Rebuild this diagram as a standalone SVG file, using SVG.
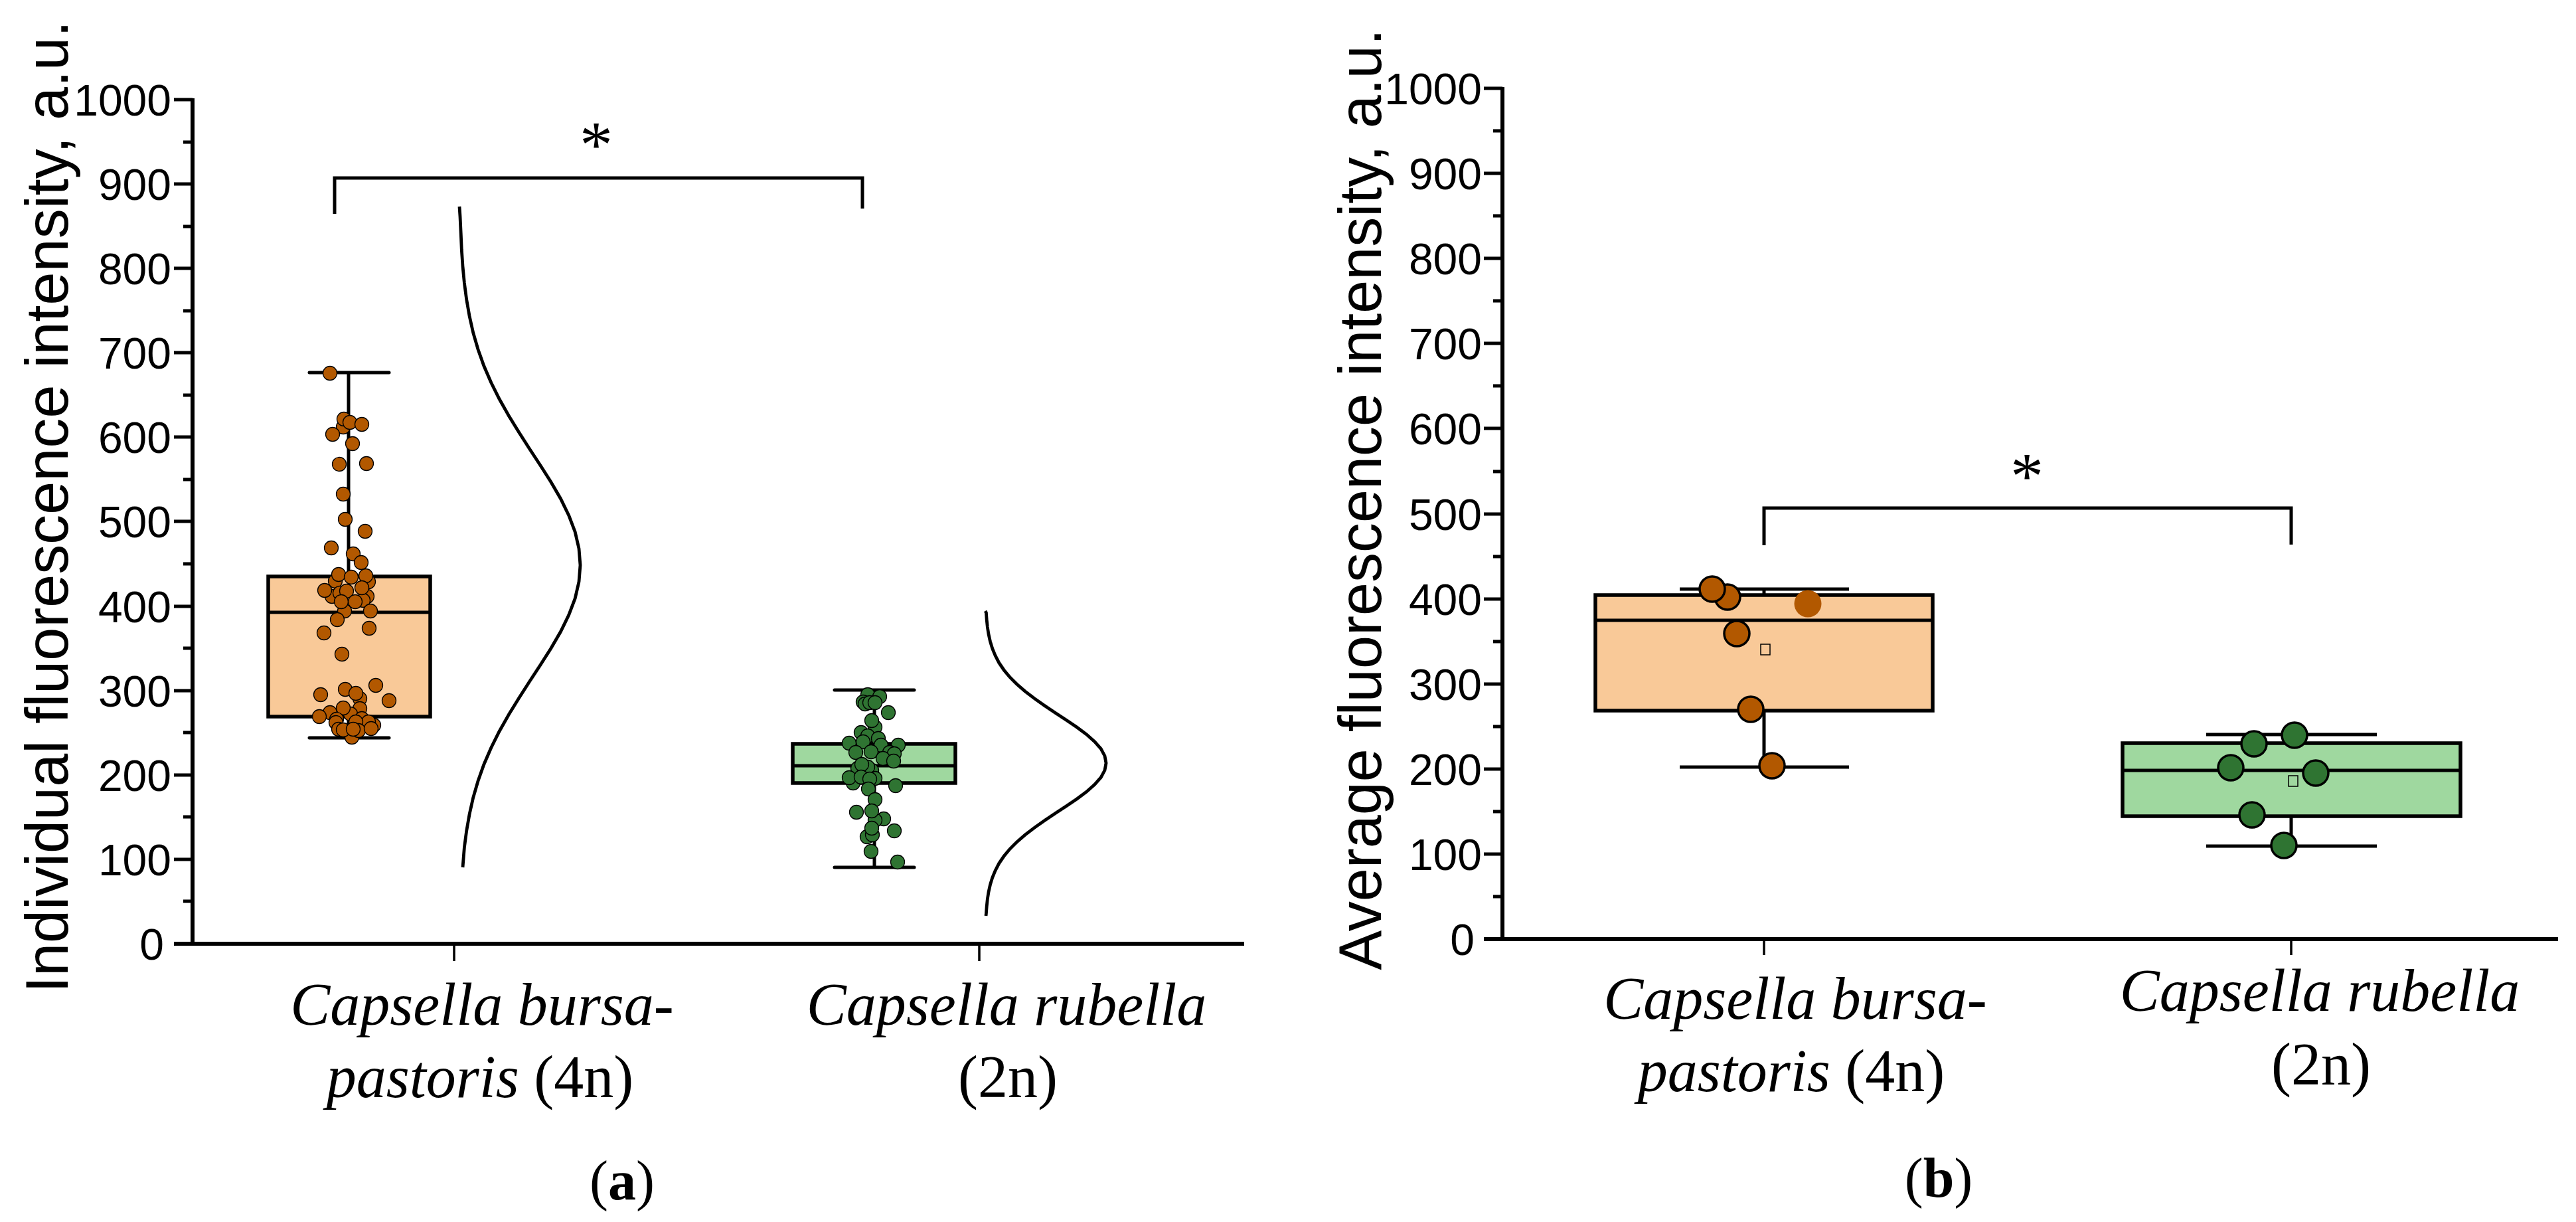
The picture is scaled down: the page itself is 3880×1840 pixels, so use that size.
<svg xmlns="http://www.w3.org/2000/svg" width="3880" height="1840" viewBox="0 0 3880 1840">
<style>
.ax{stroke:#000;stroke-width:6;fill:none}
.tk{stroke:#000;stroke-width:5;fill:none}
.ct{stroke:#000;stroke-width:3.5;fill:none}
.ln{stroke:#000;stroke-width:5;fill:none;stroke-linecap:round}
.obox{fill:#F9C998;stroke:#000;stroke-width:5.5}
.gbox{fill:#9FD89F;stroke:#000;stroke-width:5.5}
.od{fill:#B25800;stroke:#000;stroke-width:1.3}
.gd{fill:#2F7432;stroke:#000;stroke-width:1.3}
.odb{fill:#B25800;stroke:#000;stroke-width:3.5}
.gdb{fill:#2F7432;stroke:#000;stroke-width:3.5}
.mean{fill:none;stroke:#000;stroke-width:1.5}
.curve{fill:none;stroke:#000;stroke-width:4.8;stroke-linejoin:miter}
.tl{font-family:'Liberation Sans',Arial,sans-serif;font-size:66px;text-anchor:end;fill:#000}
.yl{font-family:'Liberation Sans',Arial,sans-serif;font-size:90px;text-anchor:middle;fill:#000}
.cat{font-family:'Liberation Serif','Times New Roman',serif;font-size:90px;text-anchor:middle;fill:#000}
.star{font-family:'Liberation Serif','Times New Roman',serif;font-size:100px;text-anchor:middle;fill:#000}
.pl{font-family:'Liberation Serif','Times New Roman',serif;font-size:84px;text-anchor:middle;fill:#000}
</style>
<rect width="3880" height="1840" fill="#fff"/>

<!-- ================= PANEL A ================= -->
<g id="panel-a-axes">
  <path class="ax" d="M290,148 V1421 M262,1421 H1874"/>
  <path class="tk" d="M262,150 H290 M262,277 H290 M262,404 H290 M262,531 H290 M262,658 H290 M262,785 H290 M262,913 H290 M262,1040 H290 M262,1167 H290 M262,1294 H290"/>
  <path class="tk" d="M276,214 H290 M276,341 H290 M276,468 H290 M276,595 H290 M276,722 H290 M276,849 H290 M276,976 H290 M276,1103 H290 M276,1230 H290 M276,1357 H290"/>
  <path class="ct" d="M684,1421 V1447 M1475,1421 V1447"/>
  <text class="tl" x="258" y="174">1000</text>
  <text class="tl" x="258" y="301">900</text>
  <text class="tl" x="258" y="428">800</text>
  <text class="tl" x="258" y="555">700</text>
  <text class="tl" x="258" y="682">600</text>
  <text class="tl" x="258" y="809">500</text>
  <text class="tl" x="258" y="937">400</text>
  <text class="tl" x="258" y="1064">300</text>
  <text class="tl" x="258" y="1191">200</text>
  <text class="tl" x="258" y="1318">100</text>
  <text class="tl" x="247" y="1445">0</text>
  <text class="yl" transform="translate(102,763) rotate(-90)">Individual fluorescence intensity, a.u.</text>
  <text class="cat" x="726" y="1543"><tspan font-style="italic">Capsella bursa-</tspan></text>
  <text class="cat" x="723" y="1652"><tspan font-style="italic">pastoris</tspan> (4n)</text>
  <text class="cat" x="1516" y="1543"><tspan font-style="italic">Capsella rubella</tspan></text>
  <text class="cat" x="1518" y="1652">(2n)</text>
  <text class="pl" x="937" y="1806">(<tspan font-weight="bold">a</tspan>)</text>
</g>

<g id="panel-a-bpastoris">
  <path class="ln" d="M466,561 H586 M525,561 V868 M525,1079 V1111 M466,1111 H586"/>
  <rect class="obox" x="404" y="868" width="244" height="211"/>
  <path class="ln" d="M404,922 H648" style="stroke-linecap:butt"/>
  <g class="dots">
    <circle class="od" cx="497" cy="562" r="10.5"/>
    <circle class="od" cx="517" cy="643" r="10.5"/>
    <circle class="od" cx="518" cy="631" r="10.5"/>
    <circle class="od" cx="527" cy="636" r="10.5"/>
    <circle class="od" cx="545" cy="639" r="10.5"/>
    <circle class="od" cx="501" cy="654" r="10.5"/>
    <circle class="od" cx="531" cy="668" r="10.5"/>
    <circle class="od" cx="511" cy="699" r="10.5"/>
    <circle class="od" cx="552" cy="698" r="10.5"/>
    <circle class="od" cx="517" cy="744" r="10.5"/>
    <circle class="od" cx="520" cy="782" r="10.5"/>
    <circle class="od" cx="550" cy="800" r="10.5"/>
    <circle class="od" cx="499" cy="825" r="10.5"/>
    <circle class="od" cx="532" cy="834" r="10.5"/>
    <circle class="od" cx="544" cy="847" r="10.5"/>
    <circle class="od" cx="555" cy="876" r="10.5"/>
    <circle class="od" cx="505" cy="875" r="10.5"/>
    <circle class="od" cx="510" cy="865" r="10.5"/>
    <circle class="od" cx="529" cy="869" r="10.5"/>
    <circle class="od" cx="551" cy="867" r="10.5"/>
    <circle class="od" cx="500" cy="898" r="10.5"/>
    <circle class="od" cx="553" cy="898" r="10.5"/>
    <circle class="od" cx="547" cy="904" r="10.5"/>
    <circle class="od" cx="489" cy="889" r="10.5"/>
    <circle class="od" cx="512" cy="893" r="10.5"/>
    <circle class="od" cx="522" cy="890" r="10.5"/>
    <circle class="od" cx="545" cy="885" r="10.5"/>
    <circle class="od" cx="519" cy="920" r="10.5"/>
    <circle class="od" cx="514" cy="906" r="10.5"/>
    <circle class="od" cx="535" cy="906" r="10.5"/>
    <circle class="od" cx="558" cy="920" r="10.5"/>
    <circle class="od" cx="508" cy="933" r="10.5"/>
    <circle class="od" cx="556" cy="946" r="10.5"/>
    <circle class="od" cx="488" cy="953" r="10.5"/>
    <circle class="od" cx="515" cy="985" r="10.5"/>
    <circle class="od" cx="566" cy="1032" r="10.5"/>
    <circle class="od" cx="520" cy="1038" r="10.5"/>
    <circle class="od" cx="483" cy="1046" r="10.5"/>
    <circle class="od" cx="542" cy="1052" r="10.5"/>
    <circle class="od" cx="536" cy="1044" r="10.5"/>
    <circle class="od" cx="586" cy="1055" r="10.5"/>
    <circle class="od" cx="542" cy="1067" r="10.5"/>
    <circle class="od" cx="497" cy="1073" r="10.5"/>
    <circle class="od" cx="528" cy="1075" r="10.5"/>
    <circle class="od" cx="517" cy="1066" r="10.5"/>
    <circle class="od" cx="481" cy="1079" r="10.5"/>
    <circle class="od" cx="545" cy="1082" r="10.5"/>
    <circle class="od" cx="507" cy="1083" r="10.5"/>
    <circle class="od" cx="563" cy="1092" r="10.5"/>
    <circle class="od" cx="555" cy="1087" r="10.5"/>
    <circle class="od" cx="536" cy="1087" r="10.5"/>
    <circle class="od" cx="506" cy="1088" r="10.5"/>
    <circle class="od" cx="530" cy="1110" r="10.5"/>
    <circle class="od" cx="540" cy="1100" r="10.5"/>
    <circle class="od" cx="510" cy="1098" r="10.5"/>
    <circle class="od" cx="559" cy="1097" r="10.5"/>
    <circle class="od" cx="517" cy="1099" r="10.5"/>
    <circle class="od" cx="532" cy="1098" r="10.5"/>
  </g>
  <polyline class="curve" points="692,311 693,326 694.2,351 695.3,376 697,401 699.4,426 702.7,451 707.1,476 712.7,501 720,526 728.9,551 739.7,576 752.2,601 766.3,626 781.7,651 797.7,676 814.1,701 830,726 844.5,751 856.7,776 866.2,801 872,826 874,851 872,876 866.2,901 856.7,926 844.5,951 830,976 814.1,1001 797.7,1026 781.7,1051 766.3,1076 752.2,1101 739.7,1126 728.9,1151 720,1176 712.7,1201 707.1,1226 702.7,1251 699.4,1276 697,1306"/>
</g>

<g id="panel-a-rubella">
  <path class="ln" d="M1257,1039 H1377 M1317,1039 V1120 M1317,1179 V1306 M1257,1306 H1377"/>
  <rect class="gbox" x="1194" y="1120" width="245" height="59"/>
  <path class="ln" d="M1194,1153 H1439" style="stroke-linecap:butt"/>
  <g class="dots">
    <circle class="gd" cx="1307" cy="1046" r="10.5"/>
    <circle class="gd" cx="1325" cy="1049" r="10.5"/>
    <circle class="gd" cx="1300" cy="1057" r="10.5"/>
    <circle class="gd" cx="1303" cy="1060" r="10.5"/>
    <circle class="gd" cx="1310" cy="1058" r="10.5"/>
    <circle class="gd" cx="1318" cy="1058" r="10.5"/>
    <circle class="gd" cx="1338" cy="1073" r="10.5"/>
    <circle class="gd" cx="1318" cy="1095" r="10.5"/>
    <circle class="gd" cx="1313" cy="1085" r="10.5"/>
    <circle class="gd" cx="1297" cy="1103" r="10.5"/>
    <circle class="gd" cx="1307" cy="1108" r="10.5"/>
    <circle class="gd" cx="1323" cy="1112" r="10.5"/>
    <circle class="gd" cx="1279" cy="1119" r="10.5"/>
    <circle class="gd" cx="1300" cy="1117" r="10.5"/>
    <circle class="gd" cx="1353" cy="1122" r="10.5"/>
    <circle class="gd" cx="1327" cy="1122" r="10.5"/>
    <circle class="gd" cx="1289" cy="1133" r="10.5"/>
    <circle class="gd" cx="1312" cy="1132" r="10.5"/>
    <circle class="gd" cx="1340" cy="1133" r="10.5"/>
    <circle class="gd" cx="1347" cy="1135" r="10.5"/>
    <circle class="gd" cx="1330" cy="1142" r="10.5"/>
    <circle class="gd" cx="1346" cy="1146" r="10.5"/>
    <circle class="gd" cx="1292" cy="1157" r="10.5"/>
    <circle class="gd" cx="1313" cy="1160" r="10.5"/>
    <circle class="gd" cx="1307" cy="1155" r="10.5"/>
    <circle class="gd" cx="1298" cy="1151" r="10.5"/>
    <circle class="gd" cx="1285" cy="1179" r="10.5"/>
    <circle class="gd" cx="1279" cy="1171" r="10.5"/>
    <circle class="gd" cx="1318" cy="1172" r="10.5"/>
    <circle class="gd" cx="1297" cy="1170" r="10.5"/>
    <circle class="gd" cx="1310" cy="1173" r="10.5"/>
    <circle class="gd" cx="1308" cy="1188" r="10.5"/>
    <circle class="gd" cx="1349" cy="1183" r="10.5"/>
    <circle class="gd" cx="1318" cy="1204" r="10.5"/>
    <circle class="gd" cx="1290" cy="1223" r="10.5"/>
    <circle class="gd" cx="1331" cy="1233" r="10.5"/>
    <circle class="gd" cx="1318" cy="1235" r="10.5"/>
    <circle class="gd" cx="1313" cy="1221" r="10.5"/>
    <circle class="gd" cx="1347" cy="1251" r="10.5"/>
    <circle class="gd" cx="1306" cy="1260" r="10.5"/>
    <circle class="gd" cx="1314" cy="1257" r="10.5"/>
    <circle class="gd" cx="1313" cy="1247" r="10.5"/>
    <circle class="gd" cx="1312" cy="1282" r="10.5"/>
    <circle class="gd" cx="1352" cy="1298" r="10.5"/>
  </g>
  <polyline class="curve" points="1484,920 1485.4,922.4 1486.2,933.2 1487.3,944 1489,954.8 1491.4,965.6 1494.7,976.4 1499.1,987.1 1504.7,997.9 1512,1008.7 1520.9,1019.5 1531.7,1030.3 1544.2,1041.1 1558.3,1051.9 1573.7,1062.7 1589.7,1073.5 1606.1,1084.3 1622,1095 1636.5,1105.8 1648.7,1116.6 1658.2,1127.4 1664,1138.2 1666,1149 1664,1159.8 1658.2,1170.6 1648.7,1181.4 1636.5,1192.2 1622,1203 1606.1,1213.7 1589.7,1224.5 1573.7,1235.3 1558.3,1246.1 1544.2,1256.9 1531.7,1267.7 1520.9,1278.5 1512,1289.3 1504.7,1300.1 1499.1,1310.9 1494.7,1321.6 1491.4,1332.4 1489,1343.2 1487.3,1354 1486.2,1364.8 1485.4,1375.6 1485,1379"/>
</g>

<!-- ================= PANEL B ================= -->
<g id="panel-b-axes">
  <path class="ax" d="M2263,131 V1414 M2235,1414 H3853"/>
  <path class="tk" d="M2235,133 H2263 M2235,261 H2263 M2235,389 H2263 M2235,517 H2263 M2235,645 H2263 M2235,774 H2263 M2235,902 H2263 M2235,1030 H2263 M2235,1158 H2263 M2235,1286 H2263"/>
  <path class="tk" d="M2249,197 H2263 M2249,325 H2263 M2249,453 H2263 M2249,581 H2263 M2249,710 H2263 M2249,838 H2263 M2249,966 H2263 M2249,1094 H2263 M2249,1222 H2263 M2249,1350 H2263"/>
  <path class="ct" d="M2657,1414 V1438 M3451,1414 V1438"/>
  <text class="tl" x="2232" y="157">1000</text>
  <text class="tl" x="2232" y="285">900</text>
  <text class="tl" x="2232" y="413">800</text>
  <text class="tl" x="2232" y="541">700</text>
  <text class="tl" x="2232" y="669">600</text>
  <text class="tl" x="2232" y="798">500</text>
  <text class="tl" x="2232" y="926">400</text>
  <text class="tl" x="2232" y="1054">300</text>
  <text class="tl" x="2232" y="1182">200</text>
  <text class="tl" x="2232" y="1310">100</text>
  <text class="tl" x="2221" y="1438">0</text>
  <text class="yl" transform="translate(2080,752) rotate(-90)">Average fluorescence intensity, a.u.</text>
  <text class="cat" x="2704" y="1534"><tspan font-style="italic">Capsella bursa-</tspan></text>
  <text class="cat" x="2698" y="1643"><tspan font-style="italic">pastoris</tspan> (4n)</text>
  <text class="cat" x="3494" y="1522"><tspan font-style="italic">Capsella rubella</tspan></text>
  <text class="cat" x="3496" y="1633">(2n)</text>
  <text class="pl" x="2920" y="1802">(<tspan font-weight="bold">b</tspan>)</text>
</g>

<g id="panel-b-bpastoris">
  <path class="ln" d="M2530,887 H2785 M2657,887 V896 M2657,1070 V1155 M2530,1155 H2785" style="stroke-linecap:butt"/>
  <rect class="obox" x="2403" y="896" width="508" height="174"/>
  <path class="ln" d="M2403,934 H2911" style="stroke-linecap:butt"/>
  <rect class="mean" x="2652" y="970" width="14" height="16"/>
  <circle class="odb" cx="2602" cy="899" r="19"/>
  <circle class="odb" cx="2579" cy="887" r="19"/>
  <circle cx="2723" cy="909" r="20.5" fill="#B25800"/>
  <circle class="odb" cx="2616" cy="954" r="19"/>
  <circle class="odb" cx="2637" cy="1068" r="19"/>
  <circle class="odb" cx="2669" cy="1153" r="19"/>
</g>

<g id="panel-b-rubella">
  <path class="ln" d="M3323,1106 H3580 M3451,1106 V1119 M3451,1229 V1274 M3323,1274 H3580" style="stroke-linecap:butt"/>
  <rect class="gbox" x="3197" y="1119" width="509" height="110"/>
  <path class="ln" d="M3197,1160 H3706" style="stroke-linecap:butt"/>
  <rect class="mean" x="3447" y="1168" width="14" height="16"/>
  <circle class="gdb" cx="3395" cy="1120" r="19"/>
  <circle class="gdb" cx="3456" cy="1107" r="19"/>
  <circle class="gdb" cx="3360" cy="1156" r="19"/>
  <circle class="gdb" cx="3488" cy="1164" r="19"/>
  <circle class="gdb" cx="3392" cy="1227" r="19"/>
  <circle class="gdb" cx="3440" cy="1273" r="19"/>
</g>

<!-- significance brackets -->
<g id="connectors">
  <path class="ln" d="M504,322 V268 H1299 V314" style="stroke-linecap:butt;stroke-linejoin:miter"/>
  <path class="ln" d="M2657,821 V765 H3451 V820" style="stroke-linecap:butt;stroke-linejoin:miter"/>
  <text class="star" x="898" y="251">*</text>
  <text class="star" x="3053" y="750">*</text>
</g>
</svg>
